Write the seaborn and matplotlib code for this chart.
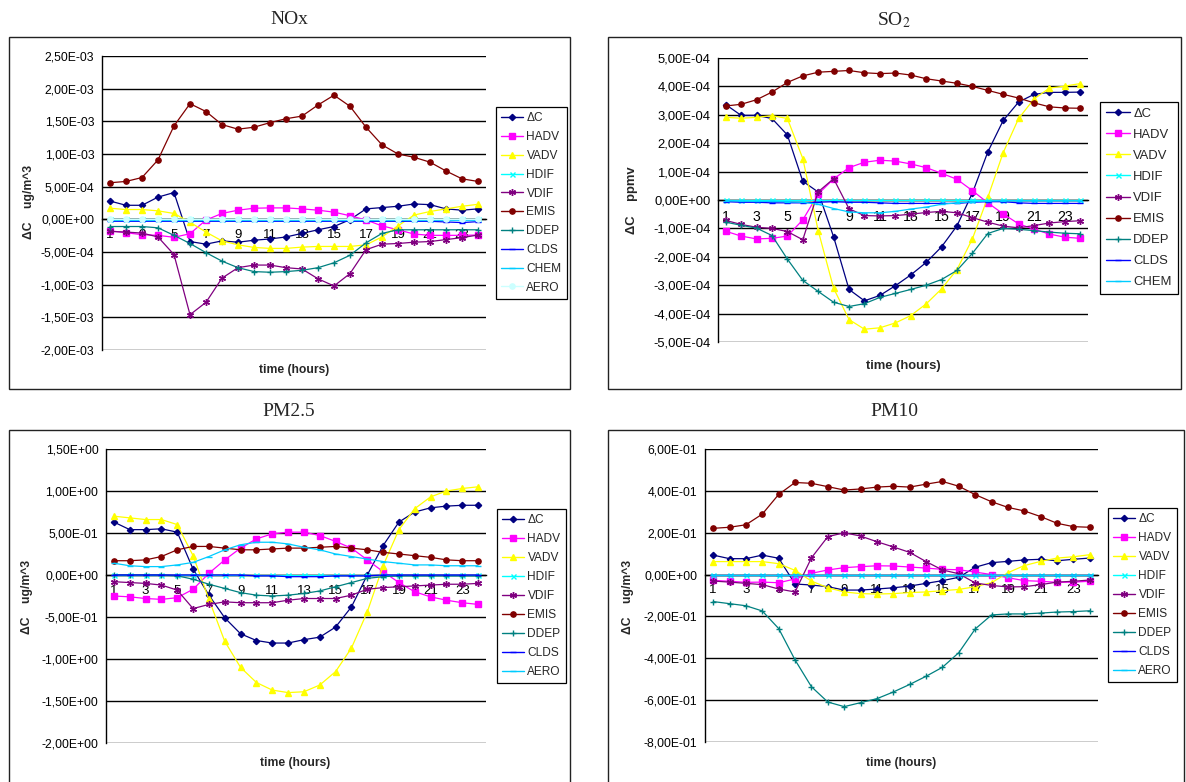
import numpy as np
import matplotlib
matplotlib.use("Agg")
import matplotlib.pyplot as plt
import seaborn as sns
from matplotlib.patches import Rectangle
from matplotlib.ticker import FuncFormatter, MultipleLocator
from matplotlib.lines import Line2D

# ---------------- data ----------------
HOURS = list(range(1, 25))
X_TICKS = [1, 3, 5, 7, 9, 11, 13, 15, 17, 19, 21, 23]
X_TICK_LABELS = ["1", "3", "5", "7", "9", "11", "13", "15", "17", "19", "21", "23"]

# NOx (units of 1e-4 ug/m^3)
NOX_UNIT = 1e-4
NOX_DC = [2.8, 2.15, 2.15, 3.4, 4.1, -3.4, -3.8, -3.3, -3.5, -3.2, -3.0, -2.7, -2.15, -1.6, -1.1, -0.05, 1.6, 1.8, 2.0, 2.35, 2.25, 1.6, 1.4, 1.6]
NOX_HADV = [-1.75, -2.05, -2.35, -2.45, -2.75, -2.2, -0.1, 0.9, 1.4, 1.7, 1.75, 1.75, 1.6, 1.4, 1.1, 0.55, -0.1, -1.0, -1.6, -2.25, -2.45, -2.45, -2.45, -2.4]
NOX_VADV = [1.7, 1.5, 1.5, 1.3, 0.9, -0.45, -1.95, -3.3, -3.9, -4.3, -4.45, -4.45, -4.25, -4.15, -4.15, -4.15, -3.9, -2.7, -1.0, 0.65, 1.2, 1.6, 2.0, 2.3]
NOX_HDIF = [0.02, 0.02, 0.02, 0.02, 0.02, 0.02, 0.02, 0.02, 0.02, 0.02, 0.02, 0.02, 0.02, 0.02, 0.02, 0.02, 0.02, 0.02, 0.02, 0.02, 0.02, 0.02, 0.02, 0.02]
NOX_VDIF = [-1.85, -1.95, -2.1, -2.7, -5.4, -14.6, -12.7, -9.0, -7.4, -7.0, -7.0, -7.4, -7.6, -9.1, -10.2, -8.3, -4.65, -3.8, -3.7, -3.5, -3.4, -3.1, -2.8, -2.4]
NOX_EMIS = [5.6, 5.8, 6.4, 9.1, 14.3, 17.7, 16.5, 14.5, 13.8, 14.1, 14.8, 15.4, 15.8, 17.5, 19.0, 17.3, 14.1, 11.4, 10.0, 9.5, 8.75, 7.4, 6.2, 5.8]
NOX_DDEP = [-1.1, -1.1, -1.1, -1.3, -2.45, -3.7, -5.1, -6.4, -7.4, -8.0, -8.1, -8.0, -7.8, -7.4, -6.65, -5.5, -3.6, -2.15, -1.6, -1.6, -1.6, -1.6, -1.6, -1.6]
NOX_CLDS = [-0.3, -0.3, -0.3, -0.3, -0.3, -0.3, -0.3, -0.3, -0.3, -0.3, -0.3, -0.3, -0.3, -0.3, -0.3, -0.3, -0.3, -0.3, -0.3, -0.3, -0.3, -0.4, -0.5, -0.35]
NOX_CHEM = [-0.05, -0.05, -0.05, -0.05, -0.05, -0.05, -0.05, -0.05, -0.05, -0.05, -0.05, -0.05, -0.05, -0.05, -0.05, -0.05, -0.05, -0.05, -0.05, -0.05, -0.05, -0.05, -0.05, -0.05]
NOX_AERO = [0.05, 0.05, 0.05, 0.05, 0.05, 0.05, 0.05, 0.05, 0.05, 0.05, 0.05, 0.05, 0.05, 0.05, 0.05, 0.05, 0.05, 0.05, 0.05, 0.05, 0.05, 0.05, 0.05, 0.05]

# SO2 (units of 1e-4 ppmv)
SO2_UNIT = 1e-4
SO2_DC = [3.36, 2.98, 2.98, 2.87, 2.29, 0.66, 0.28, -1.30, -3.15, -3.55, -3.36, -3.02, -2.64, -2.20, -1.65, -0.91, 0.24, 1.69, 2.80, 3.45, 3.72, 3.79, 3.79, 3.80]
SO2_HADV = [-1.10, -1.27, -1.37, -1.35, -1.27, -0.70, 0.21, 0.74, 1.14, 1.33, 1.40, 1.37, 1.27, 1.14, 0.94, 0.73, 0.33, -0.10, -0.49, -0.84, -1.03, -1.20, -1.31, -1.35]
SO2_VADV = [2.91, 2.88, 2.91, 2.97, 2.87, 1.46, -1.08, -3.11, -4.21, -4.55, -4.50, -4.33, -4.07, -3.66, -3.13, -2.45, -1.37, 0.09, 1.67, 2.87, 3.56, 3.94, 4.01, 4.10]
SO2_HDIF = [0.01, 0.01, 0.01, 0.01, 0.01, 0.01, 0.01, 0.01, 0.01, 0.01, 0.01, 0.01, 0.01, 0.01, 0.01, 0.01, 0.01, 0.01, 0.01, 0.01, 0.01, 0.01, 0.01, 0.01]
SO2_VDIF = [-0.72, -0.86, -0.96, -1.00, -1.11, -1.40, 0.29, 0.75, -0.31, -0.55, -0.56, -0.55, -0.50, -0.44, -0.40, -0.45, -0.62, -0.78, -0.92, -0.98, -0.90, -0.81, -0.76, -0.73]
SO2_EMIS = [3.31, 3.37, 3.53, 3.80, 4.14, 4.37, 4.50, 4.53, 4.56, 4.48, 4.45, 4.47, 4.40, 4.27, 4.19, 4.11, 4.00, 3.86, 3.72, 3.59, 3.42, 3.28, 3.24, 3.23]
SO2_DDEP = [-0.78, -0.89, -0.99, -1.25, -2.08, -2.83, -3.22, -3.60, -3.75, -3.65, -3.43, -3.29, -3.15, -3.00, -2.80, -2.48, -1.88, -1.18, -1.00, -1.03, -1.08, -1.13, -1.17, -1.19]
SO2_CLDS = [-0.06, -0.08, -0.08, -0.10, -0.10, -0.10, -0.08, -0.06, -0.08, -0.08, -0.10, -0.12, -0.12, -0.12, -0.12, -0.12, -0.08, -0.06, -0.06, -0.10, -0.12, -0.12, -0.12, -0.12]
SO2_CHEM = [-0.03, -0.04, -0.05, -0.05, -0.06, -0.08, -0.15, -0.30, -0.42, -0.45, -0.45, -0.40, -0.32, -0.25, -0.15, -0.10, -0.06, -0.04, -0.03, -0.03, -0.03, -0.03, -0.03, -0.03]

# PM2.5 (ug/m^3)
PM25_DC = [0.63, 0.54, 0.54, 0.55, 0.51, 0.07, -0.24, -0.51, -0.70, -0.78, -0.81, -0.81, -0.77, -0.74, -0.62, -0.38, 0.00, 0.35, 0.63, 0.75, 0.80, 0.82, 0.83, 0.83]
PM25_HADV = [-0.25, -0.26, -0.28, -0.29, -0.27, -0.17, 0.02, 0.18, 0.32, 0.43, 0.49, 0.51, 0.51, 0.47, 0.40, 0.32, 0.18, 0.04, -0.09, -0.20, -0.26, -0.30, -0.33, -0.35]
PM25_VADV = [0.70, 0.68, 0.66, 0.66, 0.60, 0.23, -0.29, -0.79, -1.10, -1.28, -1.37, -1.40, -1.39, -1.31, -1.15, -0.87, -0.44, 0.11, 0.54, 0.79, 0.93, 1.00, 1.03, 1.05]
PM25_HDIF = [0.00, 0.00, 0.00, 0.00, 0.00, 0.00, 0.00, 0.00, 0.00, 0.00, 0.00, 0.00, 0.00, 0.00, 0.00, 0.00, 0.00, 0.00, 0.00, 0.00, 0.00, 0.00, 0.00, 0.00]
PM25_VDIF = [-0.08, -0.09, -0.10, -0.12, -0.18, -0.40, -0.35, -0.32, -0.33, -0.33, -0.33, -0.30, -0.28, -0.28, -0.28, -0.24, -0.17, -0.15, -0.14, -0.13, -0.12, -0.11, -0.11, -0.10]
PM25_EMIS = [0.17, 0.17, 0.18, 0.22, 0.30, 0.34, 0.34, 0.32, 0.30, 0.30, 0.31, 0.32, 0.32, 0.33, 0.34, 0.32, 0.30, 0.27, 0.25, 0.23, 0.21, 0.18, 0.17, 0.17]
PM25_DDEP = [0.00, 0.00, 0.00, 0.00, -0.01, -0.05, -0.11, -0.16, -0.21, -0.24, -0.25, -0.24, -0.22, -0.19, -0.14, -0.09, -0.04, -0.02, -0.01, -0.01, -0.01, -0.01, -0.01, -0.01]
PM25_CLDS = [0.00, 0.00, 0.00, 0.00, 0.00, 0.00, 0.00, 0.00, 0.00, -0.01, -0.01, -0.02, -0.02, -0.02, -0.01, -0.01, -0.01, 0.00, 0.00, 0.00, 0.00, 0.00, 0.00, 0.00]
PM25_AERO = [0.14, 0.11, 0.10, 0.10, 0.12, 0.15, 0.22, 0.30, 0.36, 0.39, 0.39, 0.37, 0.33, 0.30, 0.25, 0.22, 0.19, 0.16, 0.14, 0.12, 0.12, 0.11, 0.11, 0.11]

# PM10 (ug/m^3)
PM10_DC = [0.093, 0.076, 0.076, 0.093, 0.078, -0.045, -0.050, -0.058, -0.074, -0.074, -0.069, -0.063, -0.055, -0.042, -0.029, -0.013, 0.035, 0.057, 0.063, 0.070, 0.073, 0.066, 0.073, 0.079]
PM10_HADV = [-0.028, -0.032, -0.037, -0.036, -0.039, -0.021, 0.006, 0.022, 0.033, 0.038, 0.042, 0.041, 0.036, 0.031, 0.025, 0.023, 0.012, 0.000, -0.015, -0.029, -0.032, -0.037, -0.036, -0.032]
PM10_VADV = [0.062, 0.062, 0.062, 0.062, 0.052, 0.020, -0.031, -0.063, -0.083, -0.091, -0.093, -0.091, -0.086, -0.083, -0.077, -0.071, -0.058, -0.039, 0.009, 0.043, 0.063, 0.079, 0.085, 0.095]
PM10_HDIF = [0.000, 0.000, 0.000, 0.000, 0.000, 0.000, 0.000, 0.000, 0.000, 0.000, 0.000, 0.000, 0.000, 0.000, 0.000, 0.000, 0.000, 0.000, 0.000, 0.000, 0.000, 0.000, 0.000, 0.000]
PM10_VDIF = [-0.031, -0.036, -0.042, -0.048, -0.069, -0.083, 0.080, 0.181, 0.200, 0.184, 0.157, 0.132, 0.106, 0.062, 0.022, 0.004, -0.040, -0.052, -0.059, -0.058, -0.048, -0.036, -0.032, -0.026]
PM10_EMIS = [0.221, 0.226, 0.238, 0.289, 0.383, 0.440, 0.436, 0.420, 0.404, 0.409, 0.418, 0.422, 0.418, 0.432, 0.445, 0.422, 0.382, 0.348, 0.321, 0.304, 0.277, 0.245, 0.229, 0.226]
PM10_DDEP = [-0.129, -0.139, -0.149, -0.174, -0.258, -0.408, -0.536, -0.609, -0.631, -0.612, -0.593, -0.561, -0.525, -0.486, -0.443, -0.373, -0.260, -0.193, -0.188, -0.188, -0.184, -0.179, -0.177, -0.173]
PM10_CLDS = [0.000, 0.000, 0.000, 0.000, 0.000, 0.000, 0.000, 0.000, 0.000, 0.000, 0.000, 0.000, 0.000, 0.000, 0.000, 0.000, 0.000, 0.000, 0.000, 0.000, 0.000, 0.000, 0.000, 0.000]
PM10_AERO = [0.000, 0.000, 0.000, 0.000, 0.000, 0.000, 0.000, 0.000, 0.000, 0.000, 0.000, 0.000, 0.000, 0.000, 0.000, 0.000, 0.000, 0.000, 0.000, 0.000, 0.000, 0.000, 0.000, 0.000]

# ---------------- styling ----------------
W, H = 1186, 782
sns.set_style("white")
plt.rcParams['font.family'] = ['Liberation Sans', 'DejaVu Sans']
plt.rcParams['mathtext.fontset'] = 'stix'

# Excel-2003 style series look: (color, marker, markersize)
STYLE = {
    "ΔC":   ("#000080", "D", 3.2),
    "HADV": ("#FF00FF", "s", 3.8),
    "VADV": ("#FFFF00", "^", 4.8),
    "HDIF": ("#00FFFF", "x", 3.6),
    "VDIF": ("#800080", (6, 2, 0), 5.0),
    "EMIS": ("#800000", "o", 3.8),
    "DDEP": ("#008080", "+", 4.8),
    "CLDS": ("#0000FF", "_", 4.0),
    "CHEM": ("#00CCFF", "_", 5.0),
    "AERO9": ("#00CCFF", "_", 5.0),
    "AERO10": ("#CCFFFF", "o", 3.8),
}

fig = plt.figure(figsize=(W / 100, H / 100), dpi=100)
fig.patch.set_facecolor("white")


def fx(x):
    return x / W


def fy(y):
    return 1 - y / H


def sci_fmt(v, pos):
    return f"{v:.2E}".replace(".", ",")


def panel(series, unit, ax_box, border, title, title_xy, ylim, ystep,
          ylabel, ylabel_xy, xlabel_xy, leg_xy, fs, legfs, labelspacing):
    l, t, r, b = ax_box
    # outer chart border
    bx0, by0, bx1, by1 = border
    fig.add_artist(Rectangle((fx(bx0), fy(by1)), fx(bx1) - fx(bx0), fy(by0) - fy(by1),
                             transform=fig.transFigure, fill=False,
                             edgecolor="#222222", lw=1.0))
    fig.text(fx(title_xy[0]), fy(title_xy[1]), title, ha="center", va="center",
             family="Liberation Serif", fontsize=14)

    ax = fig.add_axes([fx(l), fy(b), fx(r) - fx(l), fy(t) - fy(b)])
    ax.set_facecolor("white")
    handles = []
    for name, key, vals in series:
        color, marker, ms = STYLE[key]
        yvals = [v * unit for v in vals]
        sns.lineplot(x=HOURS, y=yvals, ax=ax, color=color, marker=marker,
                     markersize=ms, markeredgecolor=color, markerfacecolor=color,
                     markeredgewidth=1.0, linewidth=0.9, legend=False, zorder=3)
        handles.append(Line2D([0], [0], color=color, marker=marker, markersize=ms,
                              markeredgecolor=color, markerfacecolor=color,
                              markeredgewidth=1.0, linewidth=1.0, label=name))

    ax.set_xlim(0.5, 24.5)
    ax.set_ylim(*ylim)
    ax.yaxis.set_major_locator(MultipleLocator(ystep))
    ax.yaxis.set_major_formatter(FuncFormatter(sci_fmt))
    ax.yaxis.grid(True, color="black", lw=1.0)
    ax.xaxis.grid(False)
    ax.set_axisbelow(True)
    for s in ["top", "right"]:
        ax.spines[s].set_visible(False)
    ax.spines["left"].set_color("black")
    ax.spines["left"].set_linewidth(1.0)
    ax.spines["bottom"].set_position(("data", 0))
    ax.spines["bottom"].set_color("black")
    ax.spines["bottom"].set_linewidth(1.0)
    ax.spines["bottom"].set_zorder(2)

    ax.set_xticks(X_TICKS)
    ax.set_xticklabels(X_TICK_LABELS)
    ax.set_xticks(np.arange(0.5, 25.0, 1.0), minor=True)
    ax.tick_params(axis="x", which="major", length=0, pad=7.0, labelsize=fs + 0.8,
                   colors="black")
    ax.tick_params(axis="x", which="minor", length=3.5, width=0.8, direction="out",
                   color="black")
    ax.tick_params(axis="y", which="major", length=3.5, width=0.8, direction="out",
                   pad=2, labelsize=fs, colors="black")
    ax.set_xlabel("")
    ax.set_ylabel("")

    fig.text(fx(ylabel_xy[0]), fy(ylabel_xy[1]), ylabel, rotation=90,
             ha="center", va="center", fontsize=fs, fontweight="bold")
    fig.text(fx(xlabel_xy[0]), fy(xlabel_xy[1]), "time (hours)",
             ha="center", va="center", fontsize=fs, fontweight="bold")

    leg = ax.legend(handles=handles, loc="upper left",
                    bbox_to_anchor=(fx(leg_xy[0]), fy(leg_xy[1])),
                    bbox_transform=fig.transFigure, frameon=True, fancybox=False,
                    edgecolor="black", framealpha=1, fontsize=legfs,
                    borderaxespad=0, borderpad=0.45, handlelength=1.85,
                    handletextpad=0.25, labelspacing=labelspacing, numpoints=1)
    leg.get_frame().set_linewidth(0.9)
    return ax


panel([("ΔC", "ΔC", NOX_DC), ("HADV", "HADV", NOX_HADV), ("VADV", "VADV", NOX_VADV),
       ("HDIF", "HDIF", NOX_HDIF), ("VDIF", "VDIF", NOX_VDIF), ("EMIS", "EMIS", NOX_EMIS),
       ("DDEP", "DDEP", NOX_DDEP), ("CLDS", "CLDS", NOX_CLDS), ("CHEM", "CHEM", NOX_CHEM),
       ("AERO", "AERO10", NOX_AERO)],
      NOX_UNIT, (102, 56, 486, 350), (9, 37, 570, 389), "NOx", (289, 20),
      (-2.0e-3, 2.5e-3), 5e-4, "ΔC    ug/m^3", (29, 202), (294, 370),
      (496, 107), 8.7, 8.6, 0.57)

panel([("ΔC", "ΔC", SO2_DC), ("HADV", "HADV", SO2_HADV), ("VADV", "VADV", SO2_VADV),
       ("HDIF", "HDIF", SO2_HDIF), ("VDIF", "VDIF", SO2_VDIF), ("EMIS", "EMIS", SO2_EMIS),
       ("DDEP", "DDEP", SO2_DDEP), ("CLDS", "CLDS", SO2_CLDS), ("CHEM", "CHEM", SO2_CHEM)],
      SO2_UNIT, (718, 58, 1088, 342), (608, 37, 1181, 389), r"SO$_2$", (894, 20),
      (-5.0e-4, 5.0e-4), 1e-4, "ΔC    ppmv", (632, 200), (903, 366),
      (1100, 102), 9.4, 9.4, 0.68)

panel([("ΔC", "ΔC", PM25_DC), ("HADV", "HADV", PM25_HADV), ("VADV", "VADV", PM25_VADV),
       ("HDIF", "HDIF", PM25_HDIF), ("VDIF", "VDIF", PM25_VDIF), ("EMIS", "EMIS", PM25_EMIS),
       ("DDEP", "DDEP", PM25_DDEP), ("CLDS", "CLDS", PM25_CLDS), ("AERO", "AERO9", PM25_AERO)],
      1.0, (106, 449, 486, 743), (9, 430, 570, 790), "PM2.5", (289, 411),
      (-2.0, 1.5), 0.5, "ΔC    ug/m^3", (27, 597), (295, 763),
      (497, 509), 8.7, 8.6, 0.58)

panel([("ΔC", "ΔC", PM10_DC), ("HADV", "HADV", PM10_HADV), ("VADV", "VADV", PM10_VADV),
       ("HDIF", "HDIF", PM10_HDIF), ("VDIF", "VDIF", PM10_VDIF), ("EMIS", "EMIS", PM10_EMIS),
       ("DDEP", "DDEP", PM10_DDEP), ("CLDS", "CLDS", PM10_CLDS), ("AERO", "AERO9", PM10_AERO)],
      1.0, (705, 449, 1098, 742), (608, 430, 1184, 790), "PM10", (894, 411),
      (-0.8, 0.6), 0.2, "ΔC    ug/m^3", (628, 597), (901, 763),
      (1108, 508), 8.7, 8.6, 0.58)

fig.savefig("out.png", dpi=100, facecolor="white")
